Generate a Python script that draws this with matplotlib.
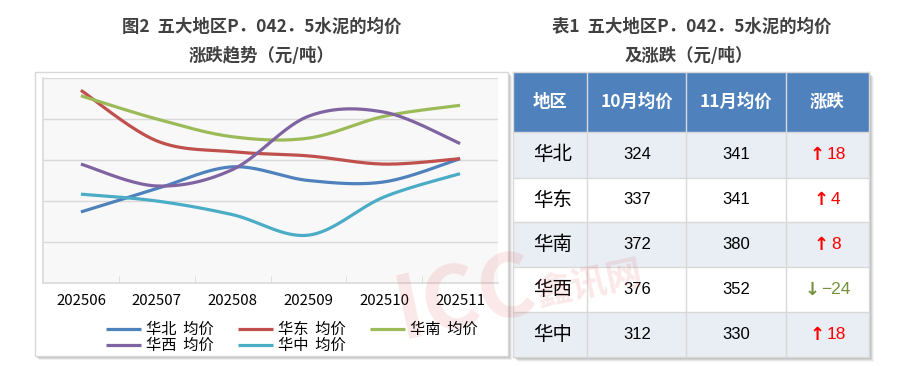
import numpy as np
import matplotlib
matplotlib.use("Agg")
import matplotlib.pyplot as plt
from matplotlib.patches import Rectangle

plt.rcParams['font.family'] = ['Noto Sans CJK SC', 'DejaVu Sans']

# ---------------- data ----------------
months = ["202506", "202507", "202508", "202509", "202510", "202511"]
series_names = ["华北  均价", "华东  均价", "华南  均价", "华西  均价", "华中  均价"]
north = [302, 319, 335, 325, 324, 341]
east = [391, 354, 346, 343, 337, 341]
south = [387, 370, 357, 356, 372, 380]
west = [337, 321, 333, 372, 375, 352]
central = [315, 310, 300, 285, 313, 330]
series_colors = ["#4F81BD", "#C0504D", "#9BBB59", "#8064A2", "#4BACC6"]

table_regions = ["华北", "华东", "华南", "华西", "华中"]
oct_avg = [324, 337, 372, 376, 312]
nov_avg = [341, 341, 380, 352, 330]
changes = [18, 4, 8, -24, 18]
table_header = ["地区", "10月均价", "11月均价", "涨跌"]

chart_title = "图2  五大地区P．042．5水泥的均价\n涨跌趋势（元/吨）"
table_title = "表1  五大地区P．042．5水泥的均价\n及涨跌（元/吨）"


def smooth(xs, ys, n=40):
    pts = np.column_stack([xs, ys]).astype(float)
    out = []
    for i in range(len(pts) - 1):
        p0 = pts[i - 1] if i > 0 else pts[i]
        p1 = pts[i]
        p2 = pts[i + 1]
        p3 = pts[i + 2] if i + 2 < len(pts) else pts[i + 1]
        c1 = p1 + (p2 - p0) / 6.0
        c2 = p2 - (p3 - p1) / 6.0
        t = np.linspace(0, 1, n)[:, None]
        seg = ((1 - t) ** 3) * p1 + 3 * ((1 - t) ** 2) * t * c1 + 3 * (1 - t) * t ** 2 * c2 + t ** 3 * p2
        out.append(seg if i == 0 else seg[1:])
    s = np.vstack(out)
    return s[:, 0], s[:, 1]


W, H = 900, 366
fig = plt.figure(figsize=(9, 3.66), dpi=100)
fig.patch.set_facecolor("white")

# overlay in pixel coordinates
ov = fig.add_axes([0, 0, 1, 1], zorder=0)
ov.set_xlim(0, W)
ov.set_ylim(H, 0)
ov.axis("off")

# chart box with shadow
for k, a in zip([4, 3, 2], [0.12, 0.18, 0.25]):
    ov.add_patch(Rectangle((35 + k, 72 + k), 473, 284, facecolor="#808080", edgecolor="none", alpha=a))
ov.add_patch(Rectangle((35, 72), 473, 284, facecolor="white", edgecolor="#D9D9D9", lw=1))

# titles
ov.text(262, 27, chart_title.split("\n")[0], ha="center", va="center", fontsize=12.5,
        color="#404040", fontweight="bold")
ov.text(262, 56, chart_title.split("\n")[1], ha="center", va="center", fontsize=12.5,
        color="#404040", fontweight="bold")
ov.text(692, 27, table_title.split("\n")[0], ha="center", va="center", fontsize=12.5,
        color="#404040", fontweight="bold")
ov.text(689, 56, table_title.split("\n")[1], ha="center", va="center", fontsize=12.5,
        color="#404040", fontweight="bold")

# ---------------- line chart ----------------
ax = fig.add_axes([43 / W, 1 - 283 / H, 455 / W, 205 / H], zorder=1)
ax.set_facecolor("#F8F8F8")
xs = np.arange(len(months))
all_series = [north, east, south, west, central]
handles = []
for name, vals, col in zip(series_names, all_series, series_colors):
    sx, sy = smooth(xs, vals)
    h, = ax.plot(sx, sy, color=col, lw=2.3, solid_capstyle="butt", label=name)
    handles.append(h)
ax.set_xlim(-0.5, len(months) - 0.5)
ax.set_ylim(250, 400)
ax.set_yticks([280, 310, 340, 370, 400])
ax.yaxis.grid(True, color="#D9D9D9", lw=1)
ax.set_axisbelow(True)
ax.tick_params(axis="y", left=False, labelleft=False)
ax.set_xticks(xs)
ax.set_xticklabels(months, fontsize=10.8, color="black")
ax.tick_params(axis="x", length=0, pad=8)
ax.set_xticks(np.arange(0.5, len(months) - 0.5, 1.0), minor=True)
ax.tick_params(axis="x", which="minor", direction="in", length=5, color="#D9D9D9")
for s in ["top", "right"]:
    ax.spines[s].set_visible(False)
for s in ["left", "bottom"]:
    ax.spines[s].set_color("#D9D9D9")
    ax.spines[s].set_linewidth(1.2)

order = [0, 3, 1, 4, 2]
leg = fig.legend([handles[i] for i in order], [series_names[i] for i in order],
                 ncol=3, loc="upper left", bbox_to_anchor=(106 / W, 1 - 321 / H),
                 frameon=False, fontsize=11, handlelength=2.3, handletextpad=0.35,
                 columnspacing=1.55, labelspacing=-0.05, borderpad=0, borderaxespad=0)
for t in leg.get_texts():
    t.set_color("black")

# ---------------- table ----------------
col_x = [513, 587.3, 686.3, 785.7, 869]
row_y = [72, 132, 177.7, 222.3, 267.3, 312.3, 356.7]
tx0, tx1, ty0, ty1 = col_x[0], col_x[-1], row_y[0], row_y[-1]
for k, a in zip([5, 4, 3, 2], [0.08, 0.12, 0.18, 0.25]):
    ov.add_patch(Rectangle((tx0 + k, ty0 + k), tx1 - tx0, ty1 - ty0, facecolor="#808080", edgecolor="none", alpha=a))
ov.add_patch(Rectangle((tx0, ty0), tx1 - tx0, ty1 - ty0, facecolor="white", edgecolor="none"))
ov.add_patch(Rectangle((tx0, row_y[0]), tx1 - tx0, row_y[1] - row_y[0], facecolor="#4F81BD", edgecolor="none"))
for r in range(len(table_regions)):
    if r % 2 == 0:
        ov.add_patch(Rectangle((tx0, row_y[r + 1]), tx1 - tx0, row_y[r + 2] - row_y[r + 1],
                               facecolor="#E9EDF4", edgecolor="none"))
for x in col_x:
    ov.plot([x, x], [ty0, ty1], color="#D9D9D9", lw=1)
for y in row_y:
    ov.plot([tx0, tx1], [y, y], color="#D9D9D9", lw=1)

cx = [(col_x[i] + col_x[i + 1]) / 2 for i in range(4)]
hy = (row_y[0] + row_y[1]) / 2
for i, hdr in enumerate(table_header):
    ov.text(cx[i], hy, hdr, ha="center", va="center", fontsize=12.5, color="white", fontweight="heavy")

num_font = ["Liberation Sans", "DejaVu Sans"]
fig.canvas.draw()
renderer = fig.canvas.get_renderer()
for r in range(len(table_regions)):
    yc = (row_y[r + 1] + row_y[r + 2]) / 2
    ov.text(533, yc, table_regions[r], ha="left", va="center", fontsize=14, color="black")
    ov.text(cx[1], yc, str(oct_avg[r]), ha="center", va="center", fontsize=12, color="black",
            family=num_font)
    ov.text(cx[2], yc, str(nov_avg[r]), ha="center", va="center", fontsize=12, color="black",
            family=num_font)
    ch = changes[r]
    if ch >= 0:
        arrow, num, col = "↑", str(ch), "#FF0000"
    else:
        arrow, num, col = "↓", "−" + str(-ch), "#76923C"
    ta = ov.text(0, yc, arrow, ha="left", va="center", fontsize=13, color=col,
                 family=["DejaVu Sans"], fontweight="bold")
    tn = ov.text(0, yc, num, ha="left", va="center", fontsize=12.5, color=col, family=num_font)
    wa = ta.get_window_extent(renderer).width
    wn = tn.get_window_extent(renderer).width
    gap = 2
    total = wa + gap + wn
    x0 = cx[3] - total / 2
    ta.set_x(x0)
    tn.set_x(x0 + wa + gap)

# ---------------- watermark ----------------
wm = fig.add_axes([0, 0, 1, 1], zorder=5)
wm.set_xlim(0, W)
wm.set_ylim(H, 0)
wm.axis("off")
wm.patch.set_alpha(0)
wm.text(465, 300, "ICC", ha="center", va="center", fontsize=62, fontweight="bold",
        color="#E05050", alpha=0.13, rotation=12)
wm.text(590, 285, "鑫讯网", ha="center", va="center", fontsize=26, fontweight="bold",
        color="#E05050", alpha=0.13, rotation=12)

fig.savefig("out.png", dpi=100)
